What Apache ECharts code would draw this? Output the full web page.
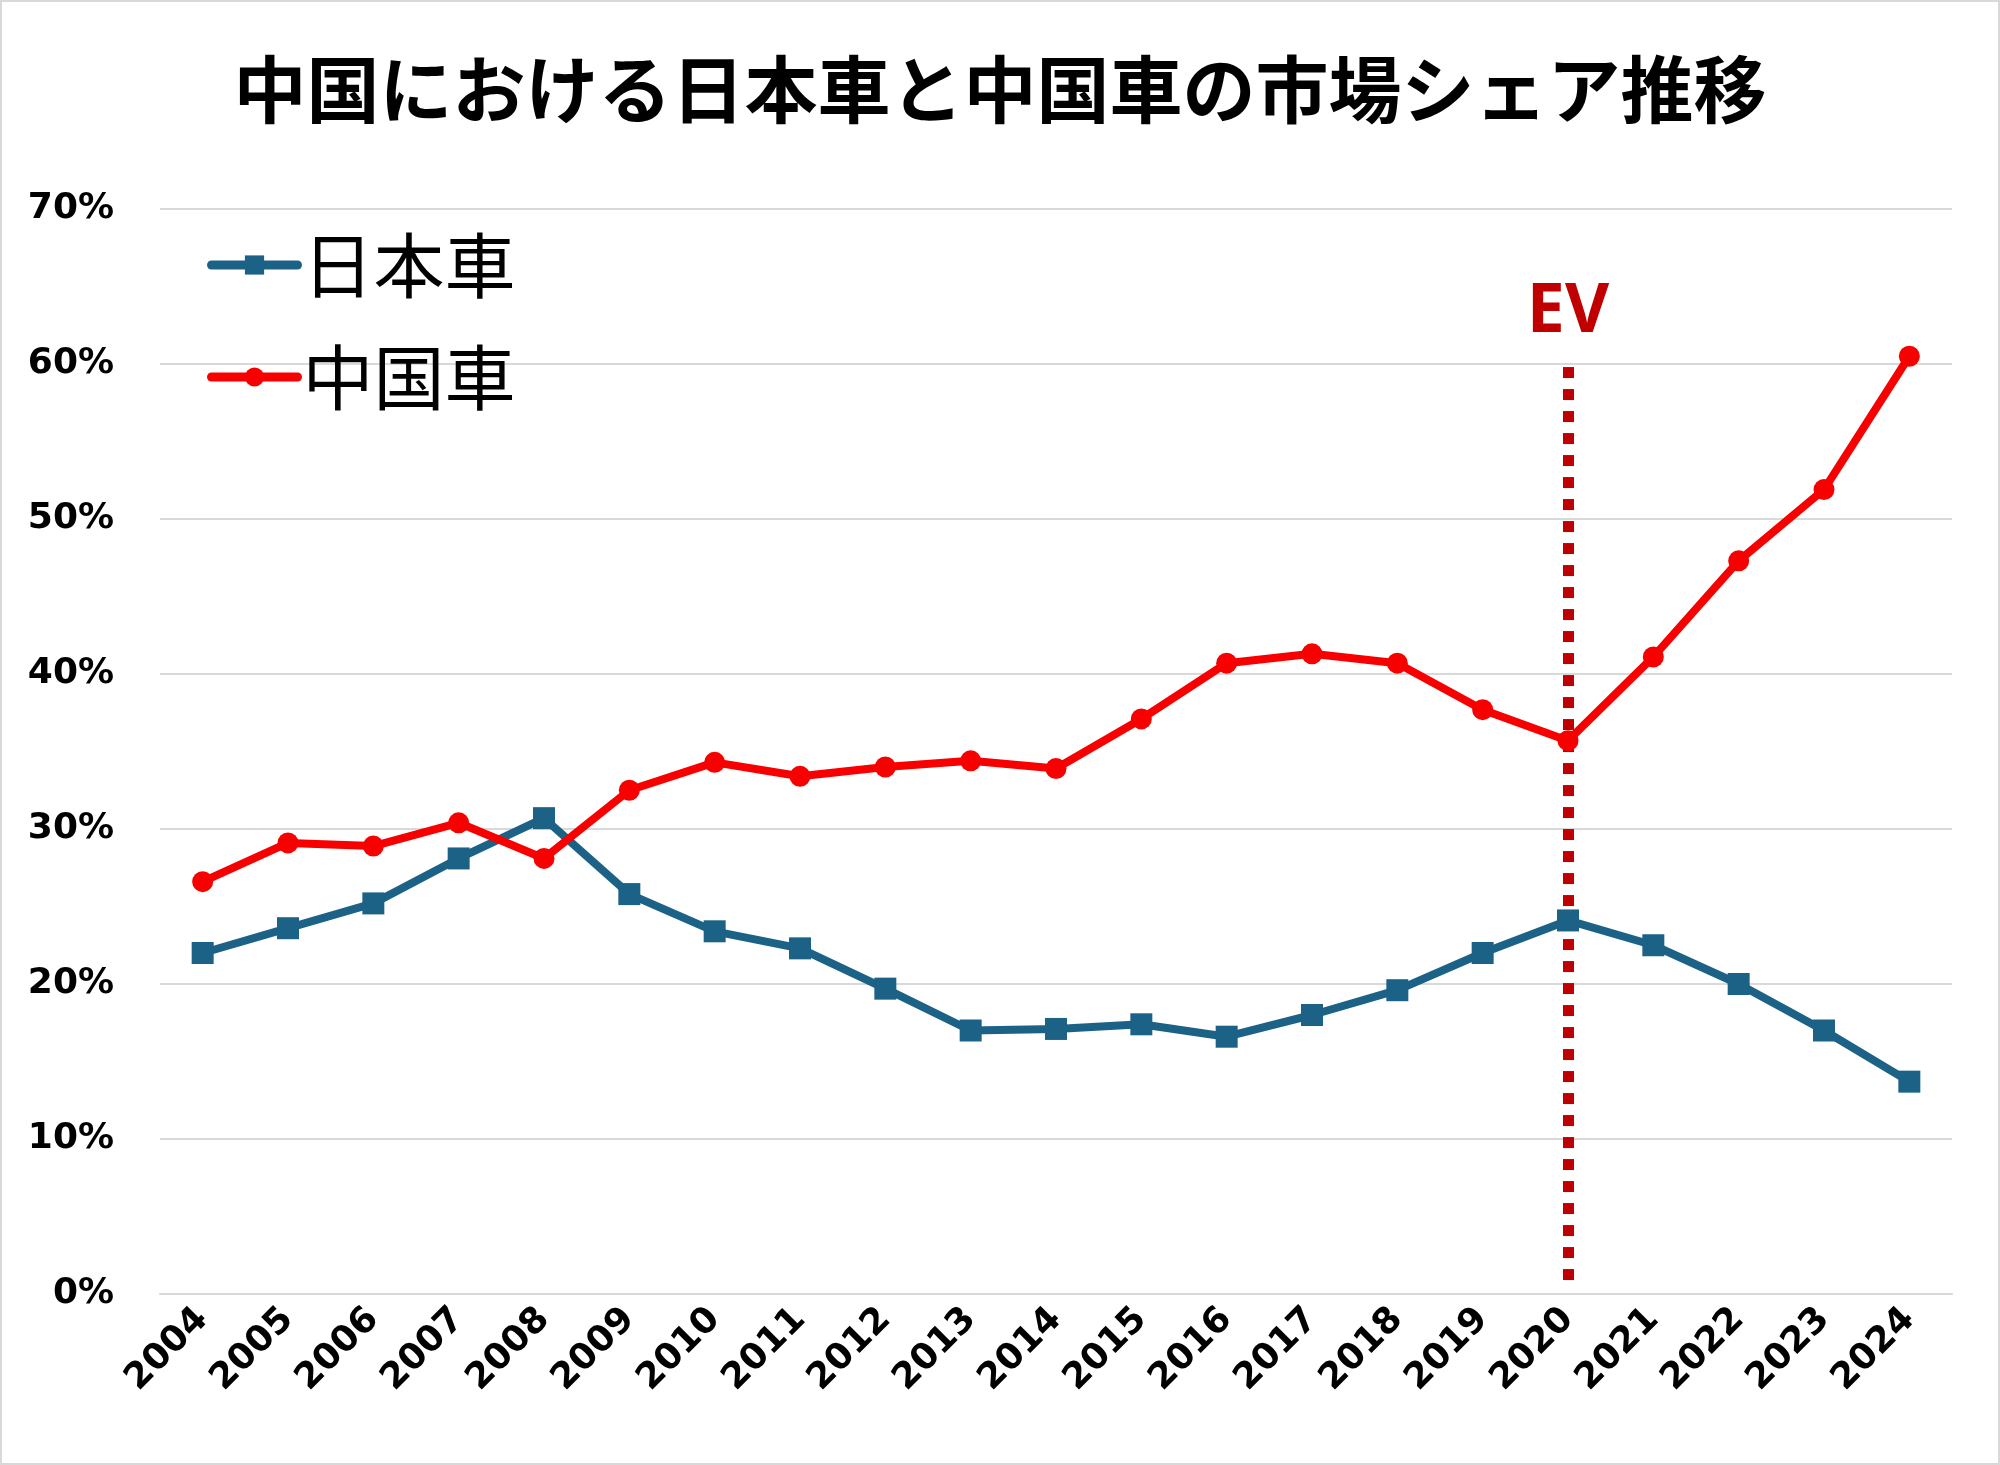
<!DOCTYPE html>
<html>
<head>
<meta charset="utf-8">
<script src="https://cdn.jsdelivr.net/npm/echarts@6/dist/echarts.min.js"></script>
<style>
html,body{margin:0;padding:0;background:#fff;}
#c{width:2000px;height:1465px;box-sizing:border-box;border:2px solid #d9d9d9;}
</style>
</head>
<body>
<div id="c"></div>
<script>
const years = ['2004','2005','2006','2007','2008','2009','2010','2011','2012','2013','2014','2015','2016','2017','2018','2019','2020','2021','2022','2023','2024'];
const japanShare = [22.0,23.6,25.2,28.1,30.7,25.8,23.4,22.3,19.7,17.0,17.1,17.4,16.6,18.0,19.6,22.0,24.1,22.5,20.0,17.0,13.7];
const chinaShare = [26.6,29.1,28.9,30.4,28.1,32.5,34.3,33.4,34.0,34.4,33.9,37.1,40.7,41.3,40.7,37.7,35.7,41.1,47.3,51.9,60.5];
const yTicks = [0,10,20,30,40,50,60,70];
const evYear = '2020';
const evLineRange = [0.9, 60.1];
const titleText = '中国における日本車と中国車の市場シェア推移';
const seriesNames = ['日本車','中国車'];

const chart = echarts.init(document.getElementById('c'), null, {renderer:'canvas'});
const labelFont = 'DejaVu Sans';
chart.setOption({
  backgroundColor:'#ffffff',
  animation:false,
  title:{
    text:titleText,
    left:'center',
    top:46,
    textStyle:{fontFamily:'Noto Sans CJK JP',fontWeight:'bold',fontSize:73,color:'#000'}
  },
  legend:{
    orient:'vertical',
    left:200,
    top:221,
    itemGap:38,
    itemWidth:86,
    itemHeight:24,
    lineStyle:{width:9,cap:'round'},
    textStyle:{fontFamily:'Noto Sans CJK JP',fontSize:71,lineHeight:74,color:'#000'},
    data:seriesNames
  },
  grid:{left:158,right:46,top:207,bottom:169,containLabel:false},
  xAxis:{
    type:'category',
    data:years,
    boundaryGap:true,
    axisLine:{show:true,lineStyle:{color:'#d9d9d9',width:2}},
    axisTick:{show:false},
    axisLabel:{rotate:45,margin:20,fontFamily:labelFont,fontWeight:'bold',fontSize:36,color:'#000',interval:0}
  },
  yAxis:{
    type:'value',
    min:yTicks[0],
    max:yTicks[yTicks.length-1],
    interval:10,
    axisLine:{show:false},
    axisTick:{show:false},
    splitLine:{lineStyle:{color:'#d9d9d9',width:2}},
    axisLabel:{margin:46,fontFamily:labelFont,fontWeight:'bold',fontSize:36,color:'#000',formatter:'{value}%'}
  },
  series:[
    {
      name:seriesNames[0],
      type:'line',
      data:japanShare,
      symbol:'rect',
      symbolSize:22,
      lineStyle:{color:'#1c6287',width:8},
      itemStyle:{color:'#1c6287'},
      z:3
    },
    {
      name:seriesNames[1],
      type:'line',
      data:chinaShare,
      symbol:'circle',
      symbolSize:21,
      lineStyle:{color:'#f80000',width:8},
      itemStyle:{color:'#f80000'},
      z:4,
      markLine:{
        silent:true,
        symbol:['none','none'],
        lineStyle:{color:'#c00000',width:11,type:[11,11],cap:'butt'},
        label:{show:true,position:'end',formatter:'EV',distance:16,
               fontFamily:'Noto Sans',fontWeight:'bold',fontSize:68,color:'#c00000'},
        data:[[{coord:[evYear,evLineRange[0]]},{coord:[evYear,evLineRange[1]]}]],
        z:2
      }
    }
  ]
});
</script>
</body>
</html>
